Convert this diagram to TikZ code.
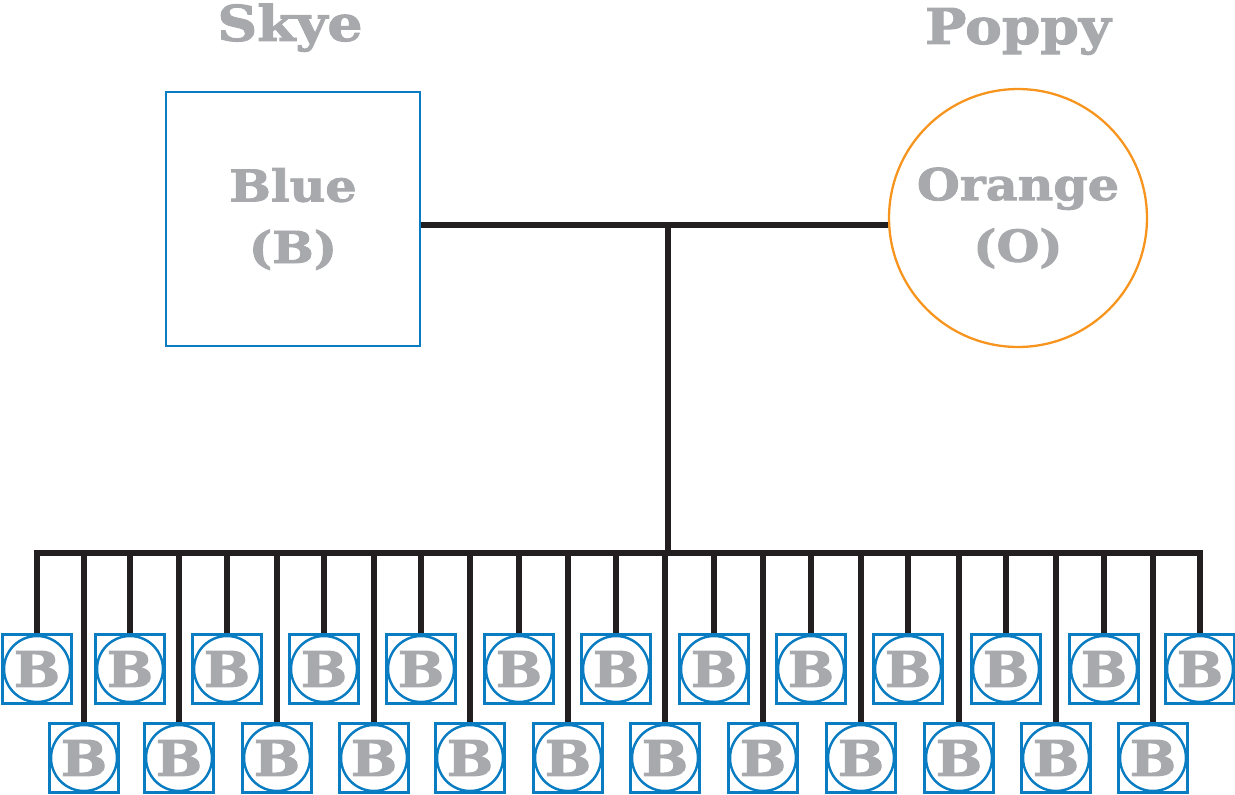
\documentclass[tikz,border=0pt]{standalone}
\usepackage{fontspec}
\setmainfont{DejaVu Serif}
\newfontfamily\pedfont[FakeStretch=1.12, FakeBold=2]{DejaVu Serif Bold}
\usepackage{tikz}
\usetikzlibrary{positioning,calc}
\usepackage{xcolor}

\definecolor{maleblue}{HTML}{0A7CC1}
\definecolor{femorange}{HTML}{F7941D}
\definecolor{namegray}{HTML}{A7A9AC}
\definecolor{linkblack}{HTML}{231F20}

\begin{document}
\begin{tikzpicture}[
    x=0.02cm, y=-0.02cm,
    link/.style = {draw=linkblack, line width=3pt},
    male/.style = {rectangle, draw=maleblue, line width=1.3pt, minimum size=5.08cm, inner sep=0pt, align=center, text=namegray, font=\pedfont\fontsize{25}{35}\selectfont},
    female/.style = {circle, draw=femorange, line width=1.3pt, minimum size=5.16cm, inner sep=0pt, align=center, text=namegray, font=\pedfont\fontsize{25}{35}\selectfont},
    petname/.style = {inner sep=0pt, text=namegray, font=\pedfont\fontsize{28}{30}\selectfont},
    pup/.style = {rectangle, draw=maleblue, line width=1.4pt, minimum size=1.38cm, inner sep=0pt, text=namegray, font=\pedfont\fontsize{28}{28}\selectfont,
        path picture={\draw[maleblue, line width=1.4pt] (path picture bounding box.center) circle (0.66cm);}}
]
    \useasboundingbox (0,0) rectangle (1235,795);

    % 1. Parents
    \node [male] (skye) at (293,219) {Blue\\(B)};
    \node [female] (poppy) at (1018,218) {Orange\\(O)};
    \node [petname, above=1cm of skye.north, anchor=base, xshift=-0.06cm] (skyename) {Skye};
    \node [petname, above=0.88cm of poppy.north, anchor=base] (poppyname) {Poppy};

    % 2. Litter: front row and back row
    \foreach \x [count=\i] in {37,130,227,324,421,519,616,714,811,908,1006,1104,1200}
        \node [pup] (top\i) at (\x,669) {B};
    \foreach \x [count=\i] in {84,179,277,374,470,568,665,763,861,959,1056,1153}
        \node [pup] (low\i) at (\x,758) {B};

    % 3. Mating line and sibship bar
    \coordinate (mate) at (668,225);
    \coordinate (sib) at (668,553);
    \draw [link] (skye.east |- mate) -- (poppy.west |- mate);
    \draw [link] (mate) -- (sib);
    \draw [link] (top1.north) |- (sib) -| (top13.north);

    % 4. Drop lines to each pup
    \foreach \i in {2,...,12}
        \draw [link] (top\i.north) -- (top\i.north |- sib);
    \foreach \i in {1,...,12}
        \draw [link] (low\i.north) -- (low\i.north |- sib);
\end{tikzpicture}
\end{document}
